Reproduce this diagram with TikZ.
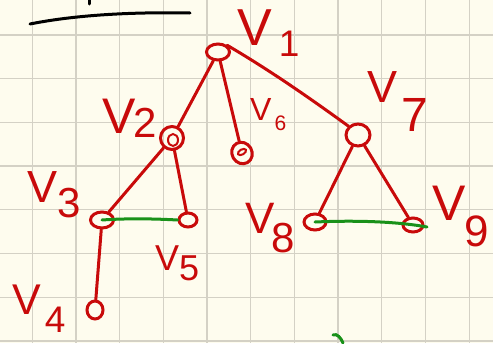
\documentclass[tikz,border=0pt]{standalone}
\usepackage{fontspec}
\setmainfont{Liberation Sans}
\usetikzlibrary{shapes.geometric}
\definecolor{paper}{RGB}{254,252,238}
\definecolor{gridc}{RGB}{212,209,197}
\definecolor{ink}{RGB}{200,10,10}
\definecolor{gink}{RGB}{25,145,25}
\newcommand\vlab[5]{\fontsize{#1}{#1}\selectfont V\kern#3pt\raisebox{-#4pt}{\fontsize{#2}{#2}\selectfont #5}}
\begin{document}
\begin{tikzpicture}[x=1pt,y=-1pt,
  vtx/.style={ellipse,draw=ink,line width=3pt,inner sep=0pt},
  edge/.style={draw=ink,line width=3pt,line cap=round},
  gedge/.style={draw=gink,line width=3pt,line cap=round},
  pen/.style={draw=black,line width=3pt,line cap=round},
  lab/.style={text=ink,anchor=base west,inner sep=0pt}]
\fill[paper] (0,0) rectangle (493,343);
\useasboundingbox (0,0) rectangle (493,343);
\foreach \i in {0,...,10} \draw[gridc,line width=1.3pt] ({32.2+43.7*\i},0) -- ({32.2+43.7*\i},343);
\foreach \j in {0,...,7} \draw[gridc,line width=1.3pt] (0,{35+43.7*\j}) -- (493,{35+43.7*\j});
% black pen strokes at top
\draw[pen] (30,24) .. controls (80,14) and (140,12) .. (190,13);
\draw[pen] (89,0) -- (89,4);
% vertices
\node[vtx,minimum width=23pt,minimum height=16pt] (v1) at (218,52) {};
\node[vtx,minimum width=23pt,minimum height=23pt] (v2) at (172,138) {};
\node[vtx,minimum width=10pt,minimum height=12pt,line width=2pt] (v2i) at (173,140) {};
\node[vtx,minimum width=20pt,minimum height=22pt,rotate=30] (v6) at (242,153) {};
\node[vtx,minimum width=9pt,minimum height=5pt,line width=2pt,rotate=30] (v6i) at (242,152) {};
\node[vtx,minimum width=24pt,minimum height=22pt] (v7) at (358,135) {};
\node[vtx,minimum width=23pt,minimum height=16pt] (v3) at (102,220) {};
\node[vtx,minimum width=18pt,minimum height=14pt] (v5) at (188,220) {};
\node[vtx,minimum width=16pt,minimum height=18pt] (v4) at (95,310) {};
\node[vtx,minimum width=22pt,minimum height=16pt] (v8) at (315,222) {};
\node[vtx,minimum width=20pt,minimum height=14pt] (v9) at (413,225) {};
% red edges
\draw[edge] (v1) -- (v2);
\draw[edge] (v1) -- (v6);
\draw[edge] (v1.north east) .. controls (271,71) and (311,99) .. (v7.north west);
\draw[edge] (v2) -- (v3);
\draw[edge] (v2) -- (v5);
\draw[edge] (v3) -- (v4);
\draw[edge] (v7) -- (v8);
\draw[edge] (v7) -- (v9);
% green edges
\coordinate (g9) at (427,227);
\draw[gedge] (v3.center) .. controls (130,218) and (160,219) .. (v5.west);
\draw[gedge] (v8.center) .. controls (360,220) and (400,222) .. (g9);
\coordinate (gs) at (333,335);
\coordinate (ge) at (343,343);
\draw[gedge] (gs) .. controls (337,333) and (341,338) .. (ge);
% labels
\node[lab] (l1) at (237,45) {\vlab{52}{37}{7}{11}{1}};
\node[lab] (l2) at (102,133) {\vlab{50}{42}{-2}{4}{2}};
\node[lab] (l6) at (250,120) {\vlab{32}{21}{3}{10}{6}};
\node[lab] (l7) at (367,102) {\vlab{45}{48}{4}{29}{7}};
\node[lab] (l3) at (27,202) {\vlab{45}{42}{0}{15}{3}};
\node[lab] (l5) at (155,270) {\vlab{36}{36}{0}{10}{5}};
\node[lab] (l4) at (12,314) {\vlab{43}{37}{4}{18}{4}};
\node[lab] (l8) at (245,233) {\vlab{44}{42}{-3}{19}{8}};
\node[lab] (l9) at (432,220) {\vlab{50}{44}{-1}{26}{9}};
\end{tikzpicture}
\end{document}
